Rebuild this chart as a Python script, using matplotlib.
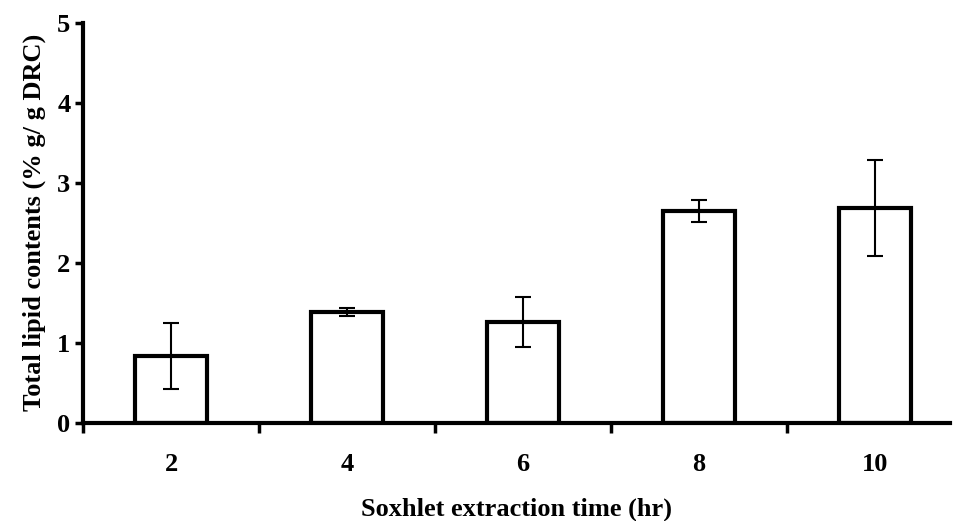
import matplotlib
matplotlib.use("Agg")
import matplotlib.pyplot as plt
import numpy as np

categories = ["2", "4", "6", "8", "10"]
values = [0.84, 1.39, 1.26, 2.65, 2.69]
errors = [0.41, 0.05, 0.31, 0.14, 0.60]
y_ticks = [0, 1, 2, 3, 4, 5]

plt.rcParams['font.family'] = ['Liberation Serif', 'DejaVu Serif']
plt.rcParams['font.weight'] = 'bold'

fig = plt.figure(figsize=(9.57, 5.21), dpi=100)
ax = fig.add_axes([83/957, 1-423/521, (950-83)/957, (423-22.7)/521])

x = np.arange(len(categories))
ax.bar(x, values, width=0.41, facecolor='white', edgecolor='black', linewidth=3.0, zorder=2)
ax.errorbar(x, values, yerr=errors, fmt='none', ecolor='black', elinewidth=1.5,
            capsize=5.5, capthick=1.5, zorder=3)

ax.set_xlim(-0.5, (950-171)/176)
ax.set_ylim(0, 5)
ax.set_yticks(y_ticks)
ax.set_yticklabels([str(t) for t in y_ticks], fontsize=19, fontweight='bold')
ax.set_xticks(x)
ax.set_xticklabels(categories, fontsize=19, fontweight='bold')
ax.set_xticks(np.arange(-0.5, 4.0, 1.0), minor=True)
ax.tick_params(axis='x', which='major', length=0, pad=21.5)
ax.tick_params(axis='x', which='minor', length=7, width=2.5, direction='out')
ax.tick_params(axis='y', which='major', length=6, width=2.5, direction='out', pad=3)

for side in ['top', 'right']:
    ax.spines[side].set_visible(False)
for side in ['left', 'bottom']:
    ax.spines[side].set_linewidth(3.0)

ax.set_xlabel("Soxhlet extraction time (hr)", fontsize=19, fontweight='bold', labelpad=15.5)
ax.set_ylabel("Total lipid contents (% g/ g DRC)", fontsize=19, fontweight='bold', labelpad=8)

fig.savefig("out.png", dpi=100)
